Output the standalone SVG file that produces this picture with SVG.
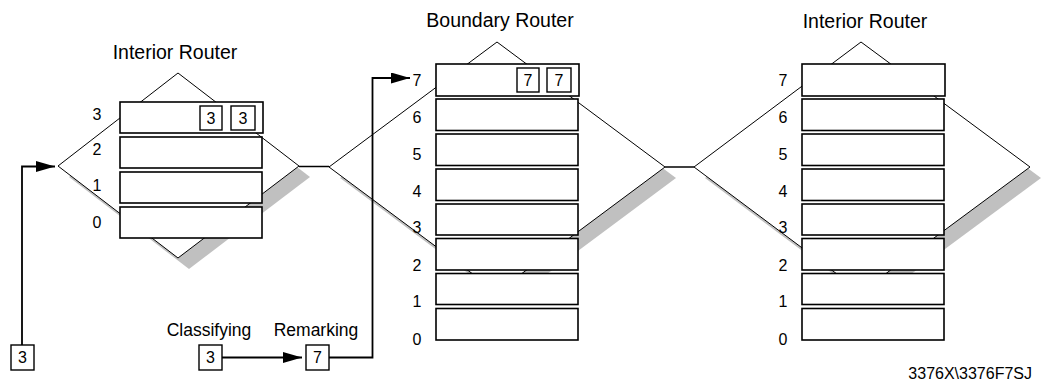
<svg xmlns="http://www.w3.org/2000/svg" width="1044" height="382" viewBox="0 0 1044 382">
<defs>
<style>
text{font-family:"Liberation Sans",Arial,sans-serif;fill:#000}
.title{font-size:19.5px;text-anchor:middle}
.lbl{font-size:16px;text-anchor:middle}
.cap{font-size:17.5px;text-anchor:middle}
.code{font-size:16px;text-anchor:end}
.shadow{fill:#c0c0c0;stroke:none}
.dia{fill:#fff;stroke:#000;stroke-width:1}
.q{fill:#fff;stroke:#000;stroke-width:1.6}
.pkt{fill:#fff;stroke:#000;stroke-width:1.4}
.wire{fill:none;stroke:#000;stroke-width:1.5}
.arr{fill:none;stroke:#000;stroke-width:1.8;marker-end:url(#ah)}
</style>
<marker id="ah" markerUnits="userSpaceOnUse" markerWidth="20" markerHeight="12" refX="19" refY="5.5" orient="auto">
<path d="M0,0 L19,5.5 L0,11 Z" fill="#000"/>
</marker>
</defs>
<rect width="1044" height="382" fill="#fff"/>

<g id="router-left">
<text class="title" x="175" y="59">Interior Router</text>
<path class="shadow" d="M69,177 L189,84 L310,177 L189,269 Z"/>
<path class="dia" d="M58,166 L178,73 L299,166 L178,258 Z"/>
<rect class="q" x="120" y="102" width="143" height="31"/>
<rect class="q" x="120" y="137" width="142" height="31"/>
<rect class="q" x="120" y="172" width="142" height="31"/>
<rect class="q" x="120" y="207" width="142" height="31"/>
<rect class="pkt" x="200" y="106" width="22" height="24"/>
<text class="lbl" x="211" y="124">3</text>
<rect class="pkt" x="231" y="106" width="24" height="24"/>
<text class="lbl" x="243" y="124">3</text>
<text class="lbl" x="97" y="120">3</text>
<text class="lbl" x="97" y="155">2</text>
<text class="lbl" x="97" y="191">1</text>
<text class="lbl" x="97" y="228">0</text>
</g>

<g id="router-boundary">
<text class="title" x="500" y="27">Boundary Router</text>
<path class="shadow" d="M340,178 L508,53 L676,178 L508,303 Z"/>
<path class="dia" d="M329,167 L497,42 L665,167 L497,292 Z"/>
<rect class="q" x="436" y="64" width="143" height="32"/>
<rect class="q" x="436" y="99" width="142" height="31.5"/>
<rect class="q" x="436" y="134" width="142" height="31.5"/>
<rect class="q" x="436" y="169" width="142" height="31.5"/>
<rect class="q" x="436" y="204" width="142" height="31"/>
<rect class="q" x="436" y="238.5" width="142" height="31.5"/>
<rect class="q" x="436" y="273.5" width="142" height="31"/>
<rect class="q" x="436" y="308.5" width="142" height="31.5"/>
<rect class="pkt" x="517" y="68" width="22" height="24"/>
<text class="lbl" x="528" y="86">7</text>
<rect class="pkt" x="547" y="68" width="24" height="24"/>
<text class="lbl" x="559" y="86">7</text>
<text class="lbl" x="417" y="86">7</text>
<text class="lbl" x="417" y="123">6</text>
<text class="lbl" x="417" y="160">5</text>
<text class="lbl" x="417" y="197">4</text>
<text class="lbl" x="417" y="233">3</text>
<text class="lbl" x="417" y="271">2</text>
<text class="lbl" x="417" y="307">1</text>
<text class="lbl" x="417" y="345">0</text>
</g>

<g id="router-right">
<text class="title" x="865" y="28">Interior Router</text>
<path class="shadow" d="M705,178 L872,53 L1041,178 L872,303 Z"/>
<path class="dia" d="M694,167 L861,42 L1030,167 L861,292 Z"/>
<rect class="q" x="802" y="64" width="143" height="32"/>
<rect class="q" x="802" y="99" width="142" height="31.5"/>
<rect class="q" x="802" y="134" width="142" height="31.5"/>
<rect class="q" x="802" y="169" width="142" height="31.5"/>
<rect class="q" x="802" y="204" width="142" height="31"/>
<rect class="q" x="802" y="238.5" width="142" height="31.5"/>
<rect class="q" x="802" y="273.5" width="142" height="31"/>
<rect class="q" x="802" y="308.5" width="142" height="31.5"/>
<text class="lbl" x="783" y="86">7</text>
<text class="lbl" x="783" y="123">6</text>
<text class="lbl" x="783" y="160">5</text>
<text class="lbl" x="783" y="197">4</text>
<text class="lbl" x="783" y="233">3</text>
<text class="lbl" x="783" y="271">2</text>
<text class="lbl" x="783" y="307">1</text>
<text class="lbl" x="783" y="345">0</text>
</g>

<g id="packet-in">
<rect class="pkt" x="11" y="345" width="23" height="25"/>
<text class="lbl" x="22.5" y="363">3</text>
</g>

<g id="packet-classify">
<text class="cap" x="209" y="336">Classifying</text>
<rect class="pkt" x="199" y="345" width="23" height="25"/>
<text class="lbl" x="210.5" y="363">3</text>
</g>

<g id="packet-remark">
<text class="cap" x="316" y="336">Remarking</text>
<rect class="pkt" x="306" y="345" width="23" height="25"/>
<text class="lbl" x="317.5" y="363">7</text>
</g>

<g id="connectors">
<line class="wire" x1="299" y1="166.5" x2="329" y2="166.5"/>
<line class="wire" x1="665" y1="167" x2="694" y2="167"/>
<path class="arr" d="M22,345 V166.5 H55"/>
<path class="arr" d="M222,357.5 H302"/>
<path class="arr" d="M329,357.5 H372.5 V78 H410"/>
</g>

<text class="code" x="1032" y="379">3376X\3376F7SJ</text>
</svg>
